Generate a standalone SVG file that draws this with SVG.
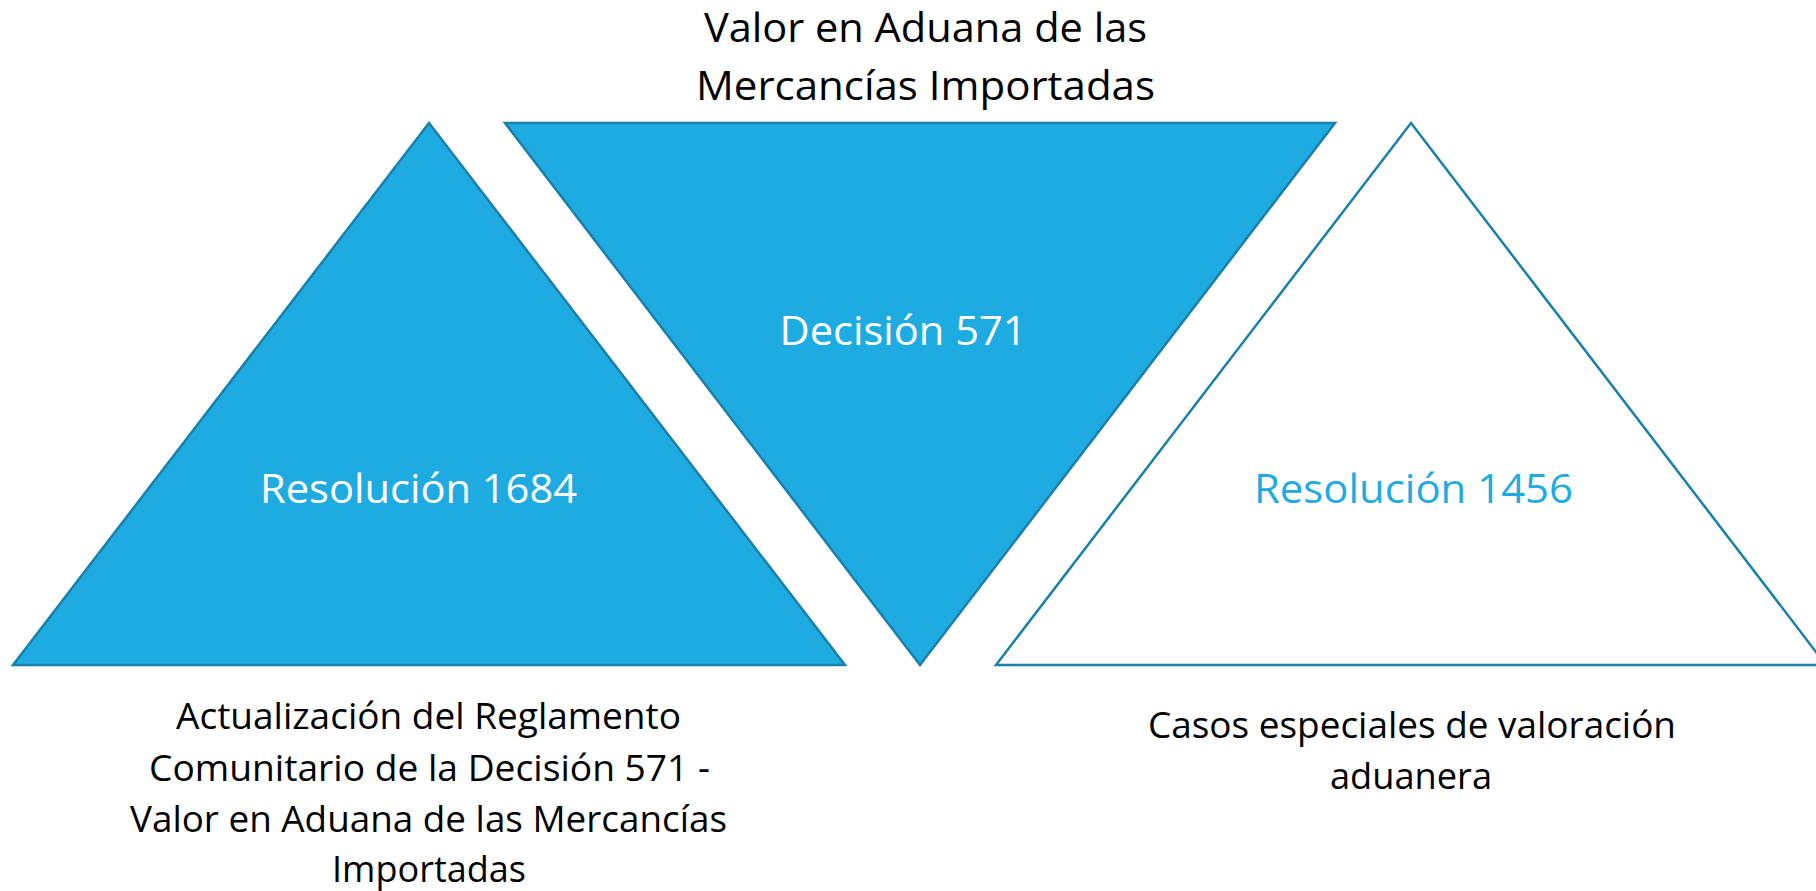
<svg xmlns="http://www.w3.org/2000/svg" width="1816" height="891" viewBox="0 0 1816 891">
<style>
.tri{stroke:#1A80A9;stroke-width:2.5;stroke-linejoin:miter}
.fill{fill:#1EABE2}
.open{fill:#FFFFFF}
text{font-family:"Open Sans","Liberation Sans",sans-serif;text-anchor:middle}
.dark{fill:#000000;font-size:37px}
.title{fill:#000000;font-size:40px}
.white{fill:#FFFFFF;font-size:40px}
.blue{fill:#1EABE2;font-size:40px}
</style>
<rect width="1816" height="891" fill="#FFFFFF"/>
<g id="title">
<text class="title" x="925.5" y="42" textLength="443" lengthAdjust="spacingAndGlyphs">Valor en Aduana de las</text>
<text class="title" x="925.5" y="100" textLength="459" lengthAdjust="spacingAndGlyphs">Mercancías Importadas</text>
</g>
<g id="node-resolucion-1684">
<polygon class="tri fill" points="429,123 845,665 13,665"/>
<text class="white" x="418.5" y="503" textLength="317" lengthAdjust="spacingAndGlyphs">Resolución 1684</text>
</g>
<g id="node-decision-571">
<polygon class="tri fill" points="505,123 1335,123 920,665"/>
<text class="white" x="903" y="345" textLength="247" lengthAdjust="spacingAndGlyphs">Decisión 571</text>
</g>
<g id="node-resolucion-1456">
<polygon class="tri open" points="1411,123 1826,665 996,665"/>
<text class="blue" x="1413.5" y="503" textLength="319" lengthAdjust="spacingAndGlyphs">Resolución 1456</text>
</g>
<g id="label-1684">
<text class="dark" x="428.5" y="729" textLength="505" lengthAdjust="spacingAndGlyphs">Actualización del Reglamento</text>
<text class="dark" x="429.5" y="781" textLength="561" lengthAdjust="spacingAndGlyphs">Comunitario de la Decisión 571 -</text>
<text class="dark" x="428.5" y="832" textLength="597" lengthAdjust="spacingAndGlyphs">Valor en Aduana de las Mercancías</text>
<text class="dark" x="429" y="882" textLength="194" lengthAdjust="spacingAndGlyphs">Importadas</text>
</g>
<g id="label-1456">
<text class="dark" x="1412" y="738" textLength="528" lengthAdjust="spacingAndGlyphs">Casos especiales de valoración</text>
<text class="dark" x="1411" y="789" textLength="162" lengthAdjust="spacingAndGlyphs">aduanera</text>
</g>
<g id="connectors"></g>
</svg>
